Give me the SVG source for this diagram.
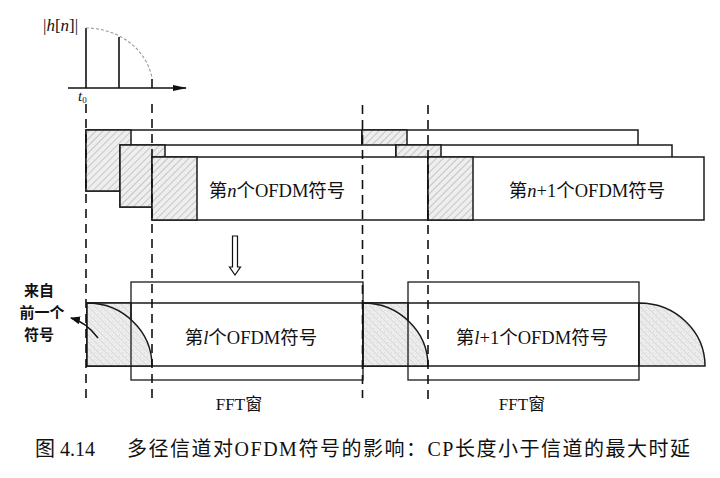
<svg xmlns="http://www.w3.org/2000/svg" width="720" height="478" viewBox="0 0 720 478">
<defs>
<pattern id="hatchA" width="5" height="5" patternUnits="userSpaceOnUse" patternTransform="rotate(45)">
<rect width="5" height="5" fill="#eeeeee"/>
<line x1="0" y1="0" x2="0" y2="5" stroke="#8a8a8a" stroke-width="0.8"/>
</pattern>
<pattern id="hatchB" width="5" height="5" patternUnits="userSpaceOnUse" patternTransform="rotate(-45)">
<rect width="5" height="5" fill="#efefef"/>
<line x1="0" y1="0" x2="0" y2="5" stroke="#9a9a9a" stroke-width="0.6"/>
<circle cx="2.5" cy="1.5" r="0.45" fill="#aaa"/>
<circle cx="3.5" cy="4" r="0.4" fill="#b5b5b5"/>
</pattern>
<marker id="arr" markerWidth="10" markerHeight="8" refX="9" refY="4" orient="auto" markerUnits="userSpaceOnUse">
<path d="M0,0 L10,4 L0,8 Z" fill="#111"/>
</marker>
<marker id="arr2" markerWidth="14" markerHeight="8" refX="13" refY="4" orient="auto" markerUnits="userSpaceOnUse">
<path d="M0,1 L14,4 L0,7 Z" fill="#111"/>
</marker>
</defs>
<style>
.box{fill:#fff;stroke:#1a1a1a;stroke-width:1.5}
.cpA{fill:url(#hatchA);stroke:#1a1a1a;stroke-width:1.5}
.cpB{fill:url(#hatchB);stroke:#1a1a1a;stroke-width:1.5}
.win{fill:none;stroke:#1a1a1a;stroke-width:1.3}
.dash{fill:none;stroke:#111;stroke-width:1.6;stroke-dasharray:9 6}
.stem{stroke:#111;stroke-width:1.6}
.lbl{font-family:"Liberation Serif","Noto Sans CJK SC",serif;font-size:18.5px;fill:#111}
.side{font-family:"Noto Sans CJK SC",sans-serif;font-size:15px;font-weight:bold;fill:#111}
.cap{font-family:"Liberation Serif","Noto Sans CJK SC",serif;font-size:20px;fill:#111}
</style>
<rect width="720" height="478" fill="#fff"/>

<g id="channel-plot">
<line x1="68" y1="88" x2="186" y2="88" stroke="#111" stroke-width="1.5" marker-end="url(#arr2)"/>
<line class="stem" x1="86" y1="28" x2="86" y2="88"/>
<line class="stem" x1="119" y1="37" x2="119" y2="88"/>
<line class="stem" x1="152" y1="79" x2="152" y2="88"/>
<path d="M86,28 A67,60 0 0 1 152,78" fill="none" stroke="#999" stroke-width="1.1" stroke-dasharray="3 2"/>
<text x="43" y="31" font-family="Liberation Serif,serif" font-size="17" fill="#111">|<tspan font-style="italic">h</tspan>[<tspan font-style="italic">n</tspan>]|</text>
<text x="78" y="101" font-family="Liberation Serif,serif" font-size="15" font-style="italic" fill="#111">t<tspan font-size="9" font-style="normal" dy="2">0</tspan></text>
</g>

<g id="row1">
<rect class="box" x="86" y="130" width="276" height="61"/>
<rect class="cpA" x="86" y="130" width="45" height="61"/>
<rect class="box" x="362" y="130" width="276" height="61"/>
<rect class="cpA" x="362" y="130" width="45" height="61"/>
</g>
<g id="row2">
<rect class="box" x="120" y="145" width="276" height="62"/>
<rect class="cpA" x="120" y="145" width="45" height="62"/>
<rect class="box" x="396" y="145" width="276" height="62"/>
<rect class="cpA" x="396" y="145" width="45" height="62"/>
</g>
<g id="symbol-n">
<rect class="box" x="152" y="157" width="276" height="63"/>
<rect class="cpA" x="152" y="157" width="45" height="63"/>
<text class="lbl" x="277" y="197" text-anchor="middle">第<tspan font-style="italic">n</tspan>个OFDM符号</text>
</g>
<g id="symbol-n1">
<rect class="box" x="428" y="157" width="276" height="63"/>
<rect class="cpA" x="428" y="157" width="45" height="63"/>
<text class="lbl" x="587" y="197" text-anchor="middle">第<tspan font-style="italic">n</tspan>+1个OFDM符号</text>
</g>

<g id="symbol-l">
<rect class="box" x="87" y="303" width="276" height="63"/>
<rect class="cpB" x="87" y="303" width="44" height="63"/>
<path class="cpB" d="M87,366 L87,303 A65,63 0 0 1 152,366 Z"/>
<text class="lbl" x="251" y="344" text-anchor="middle">第<tspan font-style="italic">l</tspan>个OFDM符号</text>
</g>
<g id="symbol-l1">
<rect class="box" x="363" y="303" width="276" height="63"/>
<rect class="cpB" x="363" y="303" width="45" height="63"/>
<path class="cpB" d="M363,366 L363,303 A65,63 0 0 1 428,366 Z"/>
<path class="cpB" d="M639,366 L639,303 A66,63 0 0 1 705,366 Z"/>
<text class="lbl" x="532" y="344" text-anchor="middle">第<tspan font-style="italic">l</tspan>+1个OFDM符号</text>
</g>
<g id="fft-window-l">
<rect class="win" x="131" y="282" width="232" height="98"/>
<text class="lbl" x="239" y="410" text-anchor="middle" style="font-size:17px">FFT窗</text>
</g>
<g id="fft-window-l1">
<rect class="win" x="408" y="282" width="231" height="98"/>
<text class="lbl" x="522" y="410" text-anchor="middle" style="font-size:17px">FFT窗</text>
</g>
<g id="prev-label">
<text class="side" x="39" y="296" text-anchor="middle">来自</text>
<text class="side" x="42" y="318" text-anchor="middle">前一个</text>
<text class="side" x="39" y="340" text-anchor="middle">符号</text>
</g>

<g id="connectors">
<line class="dash" x1="86" y1="104" x2="86" y2="400"/>
<line class="dash" x1="152" y1="104" x2="152" y2="402"/>
<line class="dash" x1="362.5" y1="105" x2="362.5" y2="398"/>
<line class="dash" x1="428" y1="105" x2="428" y2="400"/>
<path d="M232.5,236 L237.5,236 L237.5,267 L240.5,267 L235,275 L229.5,267 L232.5,267 Z" fill="#fff" stroke="#111" stroke-width="1.2"/>
<path d="M98,338 Q86,322 71,318" fill="none" stroke="#111" stroke-width="1.4" marker-end="url(#arr)"/>
</g>

<g id="caption">
<text class="cap" x="35" y="456">图 4.14</text>
<text class="cap" x="127" y="456" textLength="563" lengthAdjust="spacing">多径信道对OFDM符号的影响：CP长度小于信道的最大时延</text>
</g>
</svg>
